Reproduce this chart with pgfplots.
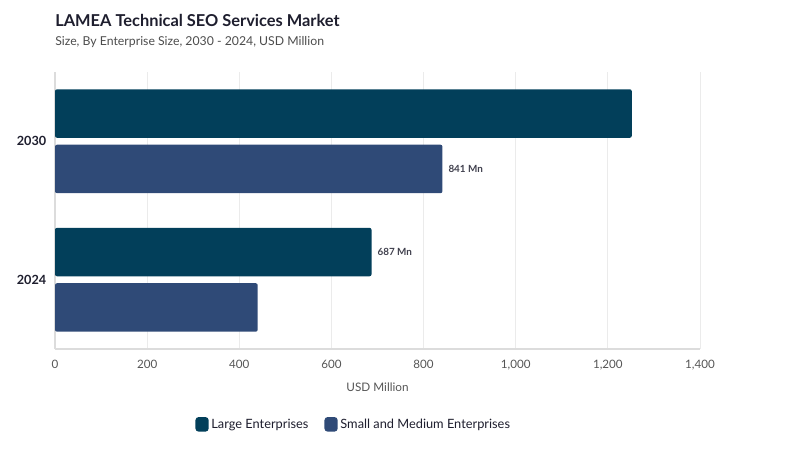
\documentclass[border=0pt]{standalone}
\usepackage{pgfplots}
\pgfplotsset{compat=1.18}
\usepackage{fontspec}
\setmainfont{Lato}
\definecolor{large}{HTML}{023F5A}
\definecolor{sme}{HTML}{2F4A77}
\definecolor{gridc}{HTML}{EBEBEB}
\definecolor{axisc}{HTML}{DCDCDC}
\definecolor{txt}{HTML}{1E1E2E}
\definecolor{tick}{HTML}{555555}

\begin{document}
\begin{tikzpicture}[x=1pt,y=1pt]
\path[use as bounding box] (0,0) rectangle (600,337.5);
\node[anchor=base west, font=\fontsize{12.3}{14}\selectfont\bfseries, text=txt, inner sep=0]
  at (41.25,317.5) {LAMEA Technical SEO Services Market};
\node[anchor=base west, font=\fontsize{9.2}{11}\selectfont, text=tick!90!black, inner sep=0]
  at (41.25,303.5) {Size, By Enterprise Size, 2030 - 2024, USD Million};
\begin{axis}[
    at={(41.25pt,75.75pt)}, anchor=south west,
    scale only axis,
    width=483.75pt, height=207.75pt,
    xmin=0, xmax=1400, ymin=-0.5, ymax=1.5,
    xtick={0,200,...,1400},
    ytick={0,1}, yticklabels={2024,2030},
    major tick length=0pt,
    xmajorgrids, grid style={gridc, line width=0.6pt},
    axis lines*=left,
    x axis line style={axisc, line width=1.6pt},
    y axis line style={axisc, line width=0.8pt},
    /pgf/number format/assume math mode=true,
    /pgf/number format/1000 sep={,},
    tick label style={font=\fontsize{8.7}{10}\selectfont, text=tick},
    xticklabel style={yshift=-5pt},
    yticklabel style={font=\fontsize{9.5}{11}\selectfont\bfseries, text=txt, xshift=-3pt},
    xlabel={USD Million},
    xlabel style={font=\fontsize{8.8}{10}\selectfont, text=tick, yshift=-2.5pt},
    xbar, bar shift=0pt, bar width=0.35,
    every axis plot/.append style={draw=none, rounded corners=1.5pt},
    nodes near coords={\pgfplotspointmeta},
    point meta=explicit symbolic,
    nodes near coords style={font=\fontsize{7.4}{9}\selectfont\bfseries, text=txt!85, anchor=west, xshift=1pt},
    legend style={at={(0.4636,-0.272)}, anchor=center, draw=none,
        font=\fontsize{9.6}{11}\selectfont, text=txt, legend columns=2,
        /tikz/every even column/.append style={column sep=10pt}},
    legend image code/.code={\fill[#1, rounded corners=2.5pt] (0pt,-5.5pt) rectangle (10pt,5.5pt);},
]
\addplot[fill=large] coordinates {(1252,1.2) [] (687,0.2) [687 Mn]};
\addplot[fill=sme] coordinates {(841,0.8) [841 Mn] (440,-0.2) []};
\legend{Large Enterprises, Small and Medium Enterprises}
\end{axis}
\end{tikzpicture}
\end{document}
